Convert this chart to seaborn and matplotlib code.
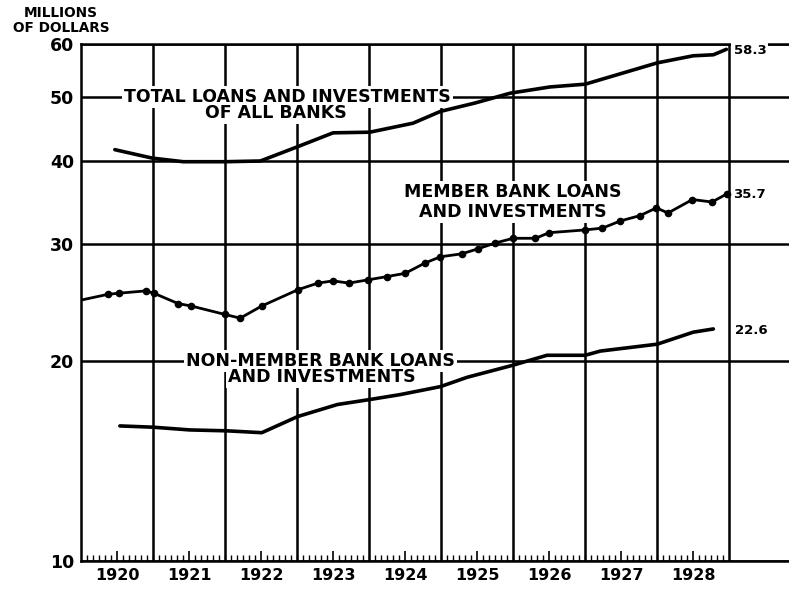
import matplotlib
matplotlib.use("Agg")
import matplotlib.pyplot as plt
import matplotlib.ticker as mticker
import seaborn as sns

# Loans and investments (call dates as fractional years)
total_dates = [1920.47, 1920.99, 1921.42, 1922.0, 1922.49, 1923.0, 1923.5, 1924.01,
               1924.61, 1924.99, 1925.47, 1925.96, 1926.51, 1927.0, 1928.0, 1928.5,
               1928.78, 1928.96]
total_values = [41.6, 40.4, 39.9, 39.9, 40.0, 42.0, 44.1, 44.2,
                45.6, 47.5, 48.9, 50.6, 51.7, 52.2, 56.2, 57.6,
                57.8, 58.9]

member_dates = [1920.0, 1920.375, 1920.53, 1920.9, 1921.01, 1921.35, 1921.53, 1922.0,
                1922.21, 1922.51, 1923.01, 1923.29, 1923.5, 1923.72, 1923.99, 1924.25,
                1924.5, 1924.78, 1924.99, 1925.29, 1925.51, 1925.75, 1926.0, 1926.31,
                1926.5, 1927.0, 1927.24, 1927.49, 1927.76, 1927.99, 1928.15, 1928.49,
                1928.76, 1928.97]
member_values = [24.7, 25.2, 25.3, 25.5, 25.3, 24.4, 24.2, 23.5,
                 23.2, 24.2, 25.6, 26.2, 26.4, 26.2, 26.5, 26.8,
                 27.1, 28.1, 28.7, 29.0, 29.5, 30.1, 30.6, 30.6,
                 31.2, 31.5, 31.7, 32.5, 33.1, 34.0, 33.4, 35.0,
                 34.7, 35.7]

nonmember_dates = [1920.54, 1921.0, 1921.51, 1922.03, 1922.51, 1923.01, 1923.56, 1924.01,
                   1924.43, 1924.99, 1925.36, 1925.99, 1926.47, 1927.0, 1927.21, 1928.0,
                   1928.5, 1928.78]
nonmember_values = [15.97, 15.9, 15.75, 15.7, 15.6, 16.5, 17.2, 17.5,
                    17.8, 18.3, 18.9, 19.7, 20.4, 20.4, 20.7, 21.2,
                    22.1, 22.35]

years = list(range(1920, 1929))
year_labels = [str(y) for y in years]
y_ticks = [10, 20, 30, 40, 50, 60]

sns.set_style("white")
plt.rcParams['font.family'] = ['DejaVu Sans']
plt.rcParams['text.color'] = 'black'
plt.rcParams['xtick.color'] = 'black'
plt.rcParams['ytick.color'] = 'black'

fig = plt.figure(figsize=(7.89, 5.89), dpi=100)
ax = fig.add_axes([81 / 789, 28 / 589, 708 / 789, 517 / 589])
ax.set_yscale('log')

lw_grid = 1.8
# year boundaries
for y in range(1921, 1930):
    ax.axvline(y, color='black', lw=lw_grid, zorder=1)

sns.lineplot(x=total_dates, y=total_values, color='black', lw=2.6, ax=ax, zorder=4)
sns.lineplot(x=member_dates, y=member_values, color='black', lw=2.0, ax=ax, zorder=4,
             marker='o', markersize=5.5, markeredgewidth=0,
             markevery=list(range(1, len(member_dates))))
sns.lineplot(x=nonmember_dates, y=nonmember_values, color='black', lw=2.6, ax=ax, zorder=4)

ax.set_xlim(1920, 1929.83)
ax.set_ylim(10, 60)

ax.yaxis.set_major_locator(mticker.FixedLocator(y_ticks))
ax.yaxis.set_minor_locator(mticker.NullLocator())
ax.set_yticklabels([str(v) for v in y_ticks], fontsize=12.5, fontweight='bold')
ax.yaxis.grid(True, color='black', lw=lw_grid, zorder=1)
ax.xaxis.grid(False)

ax.set_xticks([y + 0.5 for y in years])
ax.set_xticklabels(year_labels, fontsize=11.5, fontweight='bold')
months = [1920 + k / 12 for k in range(1, 108)]
ax.xaxis.set_minor_locator(mticker.FixedLocator(months))
ax.tick_params(axis='x', which='major', direction='in', length=7, width=1.2, pad=5,
               color='black', bottom=True)
ax.tick_params(axis='x', which='minor', direction='in', length=4, width=1.0,
               color='black', bottom=True)
ax.tick_params(axis='y', which='major', length=0, pad=5)

for side in ['left', 'top', 'bottom']:
    ax.spines[side].set_color('black')
    ax.spines[side].set_linewidth(lw_grid)
ax.spines['right'].set_visible(False)
ax.set_xlabel('')
ax.set_ylabel('')

box = dict(facecolor='white', edgecolor='none', pad=1.5)
label_font = dict(fontsize=12.5, fontweight='bold', ha='center', va='center', zorder=3)
ax.text(1922.87, 50, 'TOTAL LOANS AND INVESTMENTS', bbox=box, **label_font)
ax.text(1922.7, 47.2, 'OF ALL BANKS', bbox=box, **label_font)
ax.text(1925.99, 35.9, 'MEMBER BANK LOANS', bbox=box, **label_font)
ax.text(1926.0, 33.5, 'AND INVESTMENTS', bbox=box, **label_font)
ax.text(1923.32, 20.0, 'NON-MEMBER BANK LOANS', bbox=box, **label_font)
ax.text(1923.35, 18.9, 'AND INVESTMENTS', bbox=box, **label_font)

end_font = dict(fontsize=9.5, fontweight='bold', ha='left', va='center', zorder=3)
ax.text(1929.06, 58.6, '58.3', bbox=box, **end_font)
ax.text(1929.06, 35.6, '35.7', bbox=box, **end_font)
ax.text(1929.08, 22.2, '22.6', bbox=box, **end_font)

fig.text(61 / 789, 1 - 13 / 589, 'MILLIONS', fontsize=9.8, fontweight='bold',
         ha='center', va='center')
fig.text(61 / 789, 1 - 28 / 589, 'OF DOLLARS', fontsize=9.8, fontweight='bold',
         ha='center', va='center')

fig.savefig('out.png', dpi=100, facecolor='white')
